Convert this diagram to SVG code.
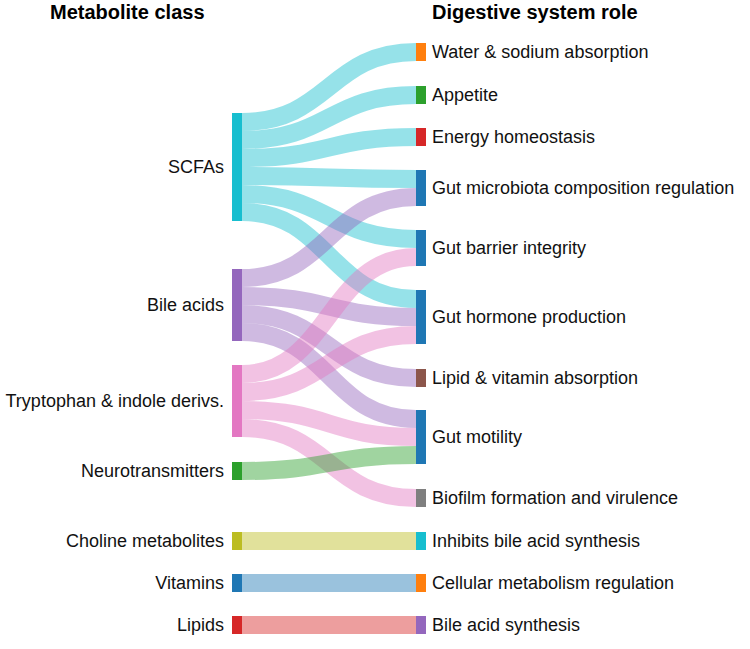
<svg xmlns="http://www.w3.org/2000/svg" width="750" height="649" viewBox="0 0 750 649">
<style>
.t{font-family:"Liberation Sans",Arial,sans-serif;font-size:18px;fill:#111}
.h{font-family:"Liberation Sans",Arial,sans-serif;font-size:20px;font-weight:bold;fill:#000}
.l{fill:none;stroke-width:18;stroke-opacity:0.45}
.s1{stroke:#17becf}.s2{stroke:#9467bd}.s3{stroke:#e377c2}.s4{stroke:#2ca02c}.s5{stroke:#bcbd22}.s6{stroke:#1f77b4}.s7{stroke:#d62728}
</style>
<rect width="750" height="649" fill="#fff"/>
<text class="h" x="50" y="19">Metabolite class</text>
<text class="h" x="432" y="19">Digestive system role</text>
<g id="links">
<path class="l s1" d="M242,122C329,122 329,52 416,52"/>
<path class="l s1" d="M242,140C329,140 329,95 416,95"/>
<path class="l s1" d="M242,158C329,158 329,137 416,137"/>
<path class="l s1" d="M242,176C329,176 329,179 416,179"/>
<path class="l s1" d="M242,194C329,194 329,239 416,239"/>
<path class="l s1" d="M242,212C329,212 329,299 416,299"/>
<path class="l s2" d="M242,278C329,278 329,197 416,197"/>
<path class="l s2" d="M242,296C329,296 329,317 416,317"/>
<path class="l s2" d="M242,314C329,314 329,378 416,378"/>
<path class="l s2" d="M242,332C329,332 329,419 416,419"/>
<path class="l s3" d="M242,374C329,374 329,257 416,257"/>
<path class="l s3" d="M242,392C329,392 329,335 416,335"/>
<path class="l s3" d="M242,410C329,410 329,437 416,437"/>
<path class="l s3" d="M242,428C329,428 329,498 416,498"/>
<path class="l s4" d="M242,471C329,471 329,455 416,455"/>
<path class="l s5" d="M242,541L416,541"/>
<path class="l s6" d="M242,583L416,583"/>
<path class="l s7" d="M242,625L416,625"/>
</g>
<g id="n-scfas"><rect x="232" y="113" width="10" height="108" fill="#17becf"/><text class="t" x="224" y="173.3" text-anchor="end">SCFAs</text></g>
<g id="n-bile"><rect x="232" y="269" width="10" height="72" fill="#9467bd"/><text class="t" x="224" y="311.3" text-anchor="end">Bile acids</text></g>
<g id="n-tryp"><rect x="232" y="365" width="10" height="72" fill="#e377c2"/><text class="t" x="224" y="407.3" text-anchor="end">Tryptophan &amp; indole derivs.</text></g>
<g id="n-neuro"><rect x="232" y="462" width="10" height="18" fill="#2ca02c"/><text class="t" x="224" y="477.3" text-anchor="end">Neurotransmitters</text></g>
<g id="n-choline"><rect x="232" y="532" width="10" height="18" fill="#bcbd22"/><text class="t" x="224" y="547.3" text-anchor="end">Choline metabolites</text></g>
<g id="n-vit"><rect x="232" y="574" width="10" height="18" fill="#1f77b4"/><text class="t" x="224" y="589.3" text-anchor="end">Vitamins</text></g>
<g id="n-lipids"><rect x="232" y="616" width="10" height="18" fill="#d62728"/><text class="t" x="224" y="631.3" text-anchor="end">Lipids</text></g>
<g id="r-water"><rect x="416" y="43" width="10" height="18" fill="#ff7f0e"/><text class="t" x="432" y="58.3">Water &amp; sodium absorption</text></g>
<g id="r-appetite"><rect x="416" y="86" width="10" height="18" fill="#2ca02c"/><text class="t" x="432" y="101.3">Appetite</text></g>
<g id="r-energy"><rect x="416" y="128" width="10" height="18" fill="#d62728"/><text class="t" x="432" y="143.3">Energy homeostasis</text></g>
<g id="r-micro"><rect x="416" y="170" width="10" height="36" fill="#1f77b4"/><text class="t" x="432" y="194.3">Gut microbiota composition regulation</text></g>
<g id="r-barrier"><rect x="416" y="230" width="10" height="36" fill="#1f77b4"/><text class="t" x="432" y="254.3">Gut barrier integrity</text></g>
<g id="r-hormone"><rect x="416" y="290" width="10" height="54" fill="#1f77b4"/><text class="t" x="432" y="323.3">Gut hormone production</text></g>
<g id="r-lipid"><rect x="416" y="369" width="10" height="18" fill="#8c564b"/><text class="t" x="432" y="384.3">Lipid &amp; vitamin absorption</text></g>
<g id="r-motility"><rect x="416" y="410" width="10" height="54" fill="#1f77b4"/><text class="t" x="432" y="443.3">Gut motility</text></g>
<g id="r-biofilm"><rect x="416" y="489" width="10" height="18" fill="#7f7f7f"/><text class="t" x="432" y="504.3">Biofilm formation and virulence</text></g>
<g id="r-inhibits"><rect x="416" y="532" width="10" height="18" fill="#17becf"/><text class="t" x="432" y="547.3">Inhibits bile acid synthesis</text></g>
<g id="r-cellular"><rect x="416" y="574" width="10" height="18" fill="#ff7f0e"/><text class="t" x="432" y="589.3">Cellular metabolism regulation</text></g>
<g id="r-bilesyn"><rect x="416" y="616" width="10" height="18" fill="#9467bd"/><text class="t" x="432" y="631.3">Bile acid synthesis</text></g>
</svg>
